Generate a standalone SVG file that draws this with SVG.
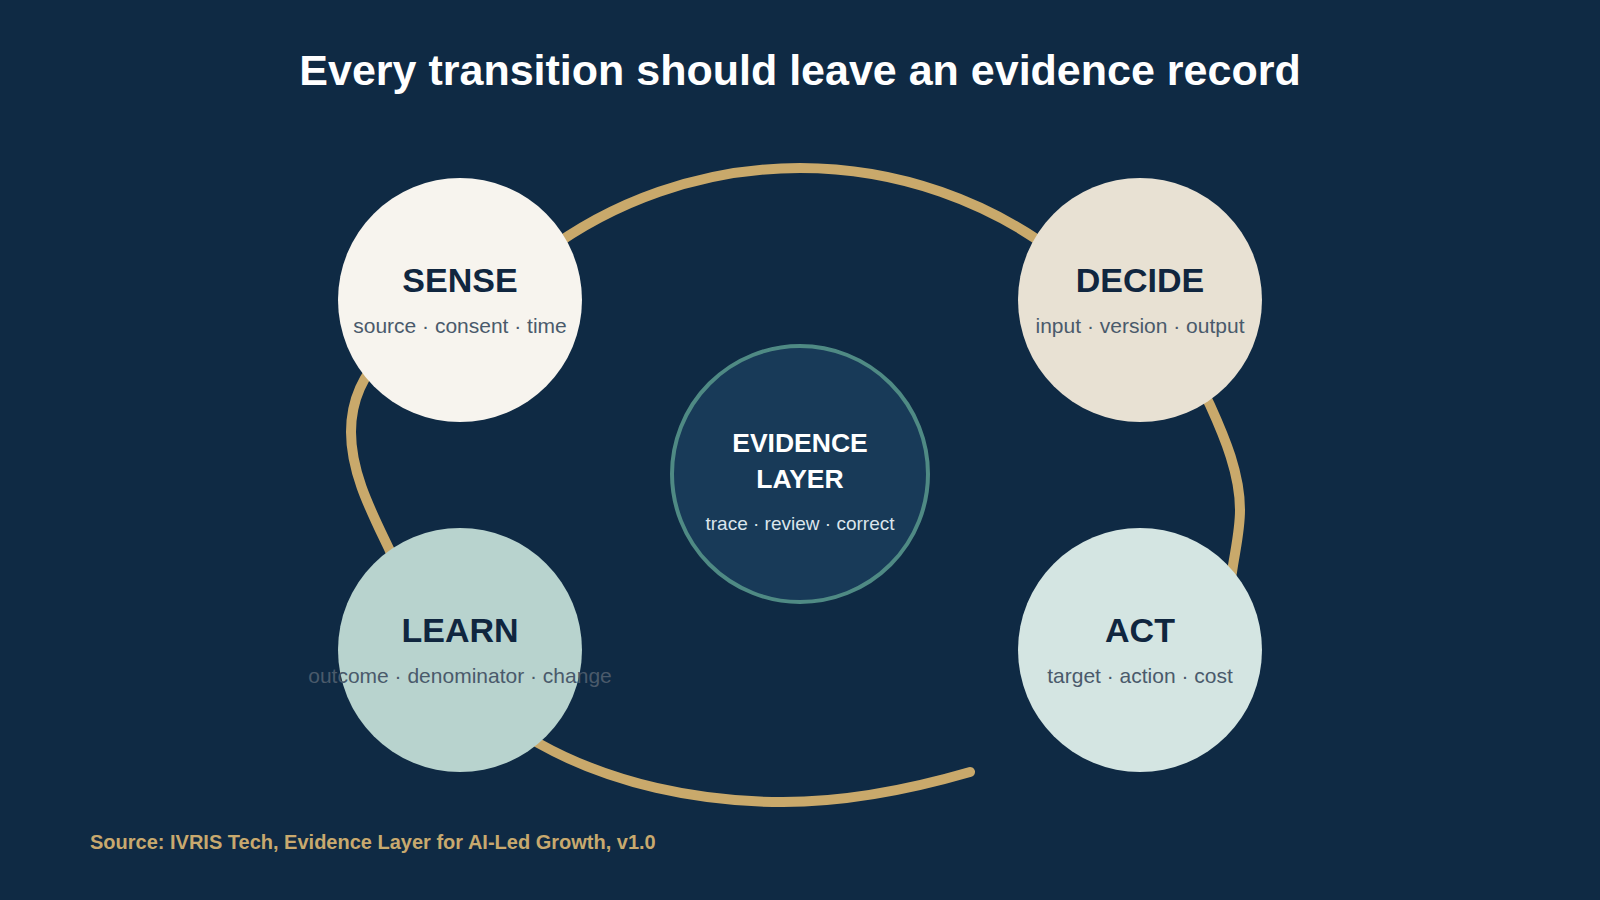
<svg xmlns="http://www.w3.org/2000/svg" width="1600" height="900" viewBox="0 0 1600 900">
  <style>
    .bg { fill: #0f2a44; }
    .title { font-family: "Liberation Sans", Arial, sans-serif; font-weight: bold; font-size: 43px; fill: #ffffff; text-anchor: middle; }
    .loop { fill: none; stroke: #c9a96b; stroke-width: 10; stroke-linecap: round; stroke-linejoin: round; }
    .node-title { font-family: "Liberation Sans", Arial, sans-serif; font-weight: bold; font-size: 34px; fill: #10263f; text-anchor: middle; }
    .node-sub { font-family: "Liberation Sans", Arial, sans-serif; font-size: 21px; fill: #4a5a6b; text-anchor: middle; }
    .ev-title { font-family: "Liberation Sans", Arial, sans-serif; font-weight: bold; font-size: 26.5px; fill: #ffffff; text-anchor: middle; }
    .ev-sub { font-family: "Liberation Sans", Arial, sans-serif; font-size: 19px; fill: #dbe5ec; text-anchor: middle; }
    .source { font-family: "Liberation Sans", Arial, sans-serif; font-weight: bold; font-size: 20px; fill: #c8a96e; }
  </style>
  <rect class="bg" x="0" y="0" width="1600" height="900"/>
  <text class="title" x="800" y="85">Every transition should leave an evidence record</text>

  <g id="connectors">
    <path class="loop" d="M 970 772 C 909.5 789.6 846 802 783 802 C 699 802 611 784 538 743 C 461.4 699.9 427.8 630.2 390 551 C 372 513 351 474 351 432 C 351 332 464.5 313.6 540 255.8 A 429 429 0 0 1 1060 255.8 C 1119.6 301.3 1178.5 336.75 1210 405 C 1225 438 1240 474 1240 510 C 1240 531 1235 551 1232 572 C 1226 612 1185 660 1150 690"/>
  </g>

  <g id="node-evidence">
    <circle cx="800" cy="474" r="128" fill="#183a58" stroke="#4f8a84" stroke-width="4"/>
    <text class="ev-title" x="800" y="452">EVIDENCE</text>
    <text class="ev-title" x="800" y="488">LAYER</text>
    <text class="ev-sub" x="800" y="530">trace · review · correct</text>
  </g>

  <g id="node-sense">
    <circle cx="460" cy="300" r="122" fill="#f7f4ee"/>
    <text class="node-title" x="460" y="292">SENSE</text>
    <text class="node-sub" x="460" y="333">source · consent · time</text>
  </g>

  <g id="node-decide">
    <circle cx="1140" cy="300" r="122" fill="#e8e1d3"/>
    <text class="node-title" x="1140" y="292">DECIDE</text>
    <text class="node-sub" x="1140" y="333">input · version · output</text>
  </g>

  <g id="node-learn">
    <circle cx="460" cy="650" r="122" fill="#b8d3ce"/>
    <text class="node-title" x="460" y="642">LEARN</text>
    <text class="node-sub" x="460" y="683">outcome · denominator · change</text>
  </g>

  <g id="node-act">
    <circle cx="1140" cy="650" r="122" fill="#d4e5e2"/>
    <text class="node-title" x="1140" y="642">ACT</text>
    <text class="node-sub" x="1140" y="683">target · action · cost</text>
  </g>

  <text class="source" x="90" y="849">Source: IVRIS Tech, Evidence Layer for AI-Led Growth, v1.0</text>
</svg>
